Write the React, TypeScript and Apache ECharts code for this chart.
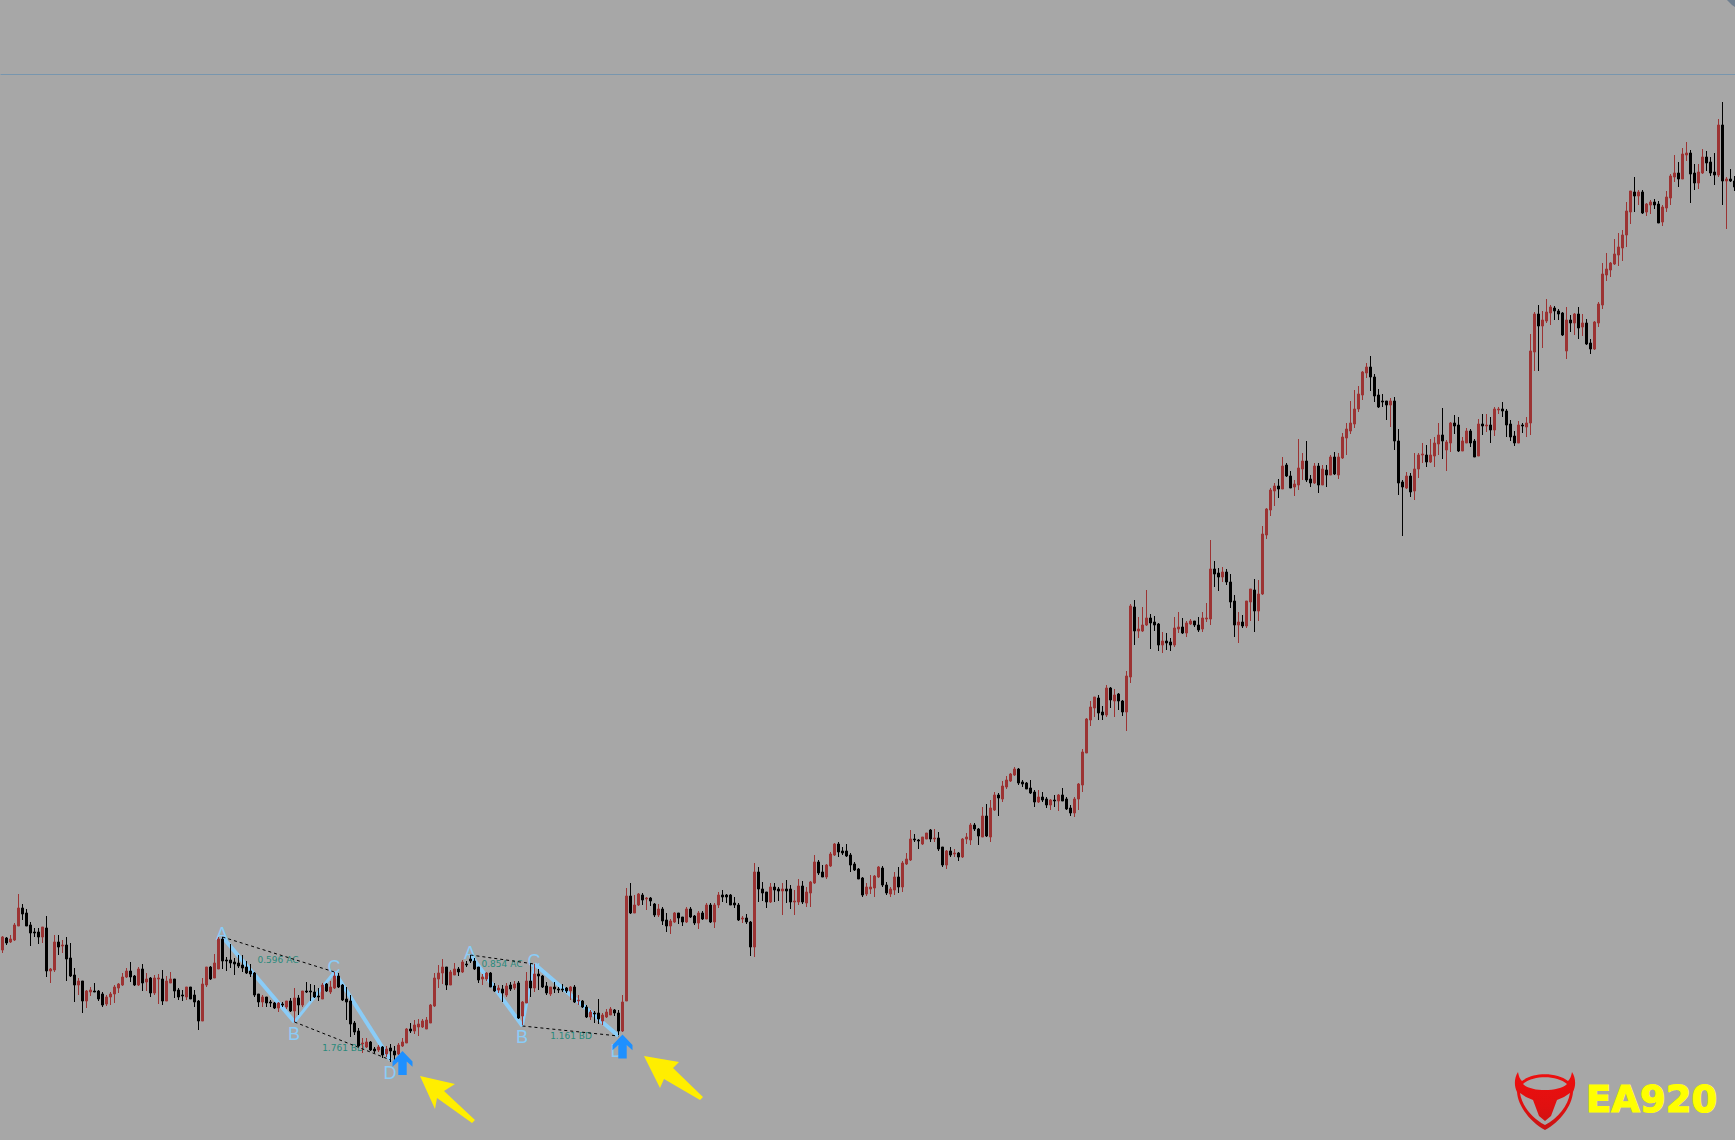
import React, { useEffect, useRef } from "react";
import * as echarts from "echarts";

const candlesFallingLeg: number[][] = [
  [190,203,187,204],[202,197,195,203],[198,201,197,205],[200,215,199,217],[214,232,214,246],[232,226,220,236],[227,214,214,231],[215,207,194,218],[208,207,203,212],[208,203,196,212],
  [203,213,197,213],[212,169,163,224],[169,171,157,172],[170,198,168,205],[198,193,185,205],[194,195,187,200],[195,181,159,203],[182,164,163,197],[165,155,138,172],[155,159,145,162],
  [159,139,127,159],[139,149,132,150],[148,150,144,153],[149,148,148,157],[149,141,139,150],[146,135,133,148],[136,143,134,145],[143,146,135,148],[146,153,137,155],[152,156,147,157],
  [155,163,154,167],[163,169,162,172],[169,163,158,178],[164,155,154,165],[155,171,154,173],[171,157,149,176],[158,161,149,167],[162,147,143,163],[147,162,145,165],[161,162,136,166],
  [161,139,135,170],[139,159,139,164],[157,161,157,168],[161,149,142,161],[150,143,140,152],[145,144,139,150],[143,153,140,153],[153,141,141,153],[145,138,133,150],[139,119,110,140],
  [119,156,119,162],[155,173,153,173],[173,161,160,174],[162,177,162,186],[171,201,171,203],[201,179,171,203],[180,179,169,183],[180,177,172,196],[178,176,165,182],[177,174,172,185],
  [175,172,168,185],[173,167,166,179],[169,166,163,176],[167,145,143,168],[146,138,133,146],[138,143,133,145],[143,137,133,143],[138,137,133,140],[137,132,131,138],[132,137,128,138],
  [136,135,133,138],[133,139,131,139],[139,129,128,142],[129,142,118,152],[142,135,125,145],[135,149,133,149],[149,148,147,158],[149,148,139,156],[148,143,142,155],[144,143,139,152],
  [141,155,141,157],[156,149,148,157],[148,153,146,159],[152,164,151,168],[164,153,152,167],[155,140,139,156],[141,138,120,153],[139,116,103,145],[117,108,105,119],[109,94,93,112],
  [96,97,87,102],[93,98,92,102],[98,90,89,99],[91,89,87,93],[90,93,88,95],[93,85,82,94],[86,91,83,94],[92,89,78,96],[89,85,79,94],[86,95,85,97],
];
const candlesSecondPattern: number[][] = [
  [94,98,93,102],[97,111,97,112],[111,109,107,117],[109,115,106,120],[113,116,104,121],[113,119,112,121],[111,120,111,123],[117,135,117,136],[134,162,133,167],[161,167,152,175],
  [167,173,156,181],[173,155,150,173],[155,168,155,170],[165,171,165,177],[171,168,164,173],[168,178,167,180],[176,175,173,179],[181,179,177,185],[179,171,170,182],[173,160,157,173],
  [161,163,155,166],[161,167,159,168],[167,153,153,168],[154,149,148,157],[150,152,147,155],[151,147,138,155],[145,154,143,157],[155,151,149,158],[152,156,150,159],[157,122,121,159],
  [124,138,115,139],[137,159,137,168],[159,152,143,176],[152,166,148,176],[166,164,150,171],[164,153,152,165],[154,147,145,158],[146,153,144,153],[153,151,147,158],[151,150,147,153],
  [151,150,148,156],[152,149,147,153],[149,153,140,154],[153,138,137,155],[139,140,135,145],[139,133,132,140],[133,123,122,135],[123,128,120,130],[127,126,117,129],[127,121,116,141],
  [119,125,115,127],[123,128,122,131],[125,131,125,133],[130,127,124,131],[127,109,105,130],[109,138,108,145],
];
const candlesSlowClimb: number[][] = [
  [139,244,139,252],[244,227,226,257],[227,235,227,245],[235,246,234,247],[245,240,235,247],[241,242,230,243],[242,239,234,243],[236,225,223,237],[225,231,223,236],[231,219,215,233],
  [220,214,208,227],[214,219,206,221],[218,227,217,228],[227,222,216,227],[223,218,214,223],[218,231,217,233],[231,223,222,233],[224,217,215,225],[217,227,211,229],[227,221,220,229],
  [221,235,221,237],[235,218,217,237],[218,235,212,237],[235,245,232,248],[245,243,238,250],[245,243,237,246],[245,235,235,246],[237,235,232,243],[235,220,219,237],[221,222,217,224],
  [222,218,216,226],[218,193,184,219],[193,268,183,277],[268,251,238,273],[251,247,239,258],[248,238,232,248],[238,253,237,257],[253,250,238,257],[251,249,239,253],[249,251,225,257],
  [251,249,237,260],[251,238,231,255],[238,239,225,250],[238,254,235,261],[254,238,236,259],[237,248,233,253],[247,258,233,259],[257,278,256,285],[278,267,265,280],[268,263,263,275],
  [263,275,261,276],[274,286,273,288],[285,296,284,297],[296,288,283,298],[289,287,285,293],[289,284,283,296],[285,275,268,287],[276,270,269,278],[271,261,261,272],[262,245,243,263],
  [246,253,244,257],[251,253,246,265],[252,264,243,265],[263,273,262,274],[272,255,253,274],[255,247,245,258],[246,251,243,253],[250,263,245,268],[263,253,247,273],[253,277,248,279],
  [276,281,275,287],[280,301,279,310],[301,300,298,306],[300,299,291,301],[296,303,295,303],[301,307,301,307],[310,301,298,311],[301,302,298,311],[302,291,289,308],[293,275,273,293],
  [275,289,271,290],[289,285,283,293],[286,287,283,291],[287,283,279,288],[283,301,282,302],[301,303,296,307],[300,315,295,317],[315,311,309,317],[311,304,295,312],[303,324,303,333],
  [324,304,303,336],[303,332,298,340],[330,345,329,348],[345,342,324,347],[341,354,338,359],[353,360,351,364],[359,366,358,367],[365,371,364,373],[371,357,355,372],[358,356,353,360],
  [357,351,351,358],[352,347,346,360],[348,338,333,350],[338,343,337,350],[343,340,338,348],[341,335,332,343],[335,340,330,341],[340,339,333,345],[339,345,329,346],[345,339,339,352],
  [341,331,330,343],[332,327,324,335],[327,341,323,343],[341,356,330,357],[355,388,348,391],
];
const candlesSteepRise: number[][] = [
  [387,421,387,422],[420,433,414,439],[432,443,423,443],[442,427,420,445],[428,425,420,434],[425,452,423,455],[452,440,432,453],[439,445,423,451],[446,439,430,447],[439,428,424,440],
  [428,464,409,469],[463,534,457,536],[533,509,495,540],[509,511,502,523],[509,515,508,533],[515,522,514,550],[522,517,491,526],[518,515,509,524],[516,495,489,517],[495,499,487,508],
  [499,497,490,507],[498,495,489,502],[495,512,493,523],[511,513,507,528],[513,507,506,522],[507,517,503,519],[516,519,515,521],[519,515,513,519],[515,510,508,523],[511,522,508,528],
  [521,522,518,537],[521,571,515,600],[571,566,553,579],[567,563,549,572],[563,568,558,573],[568,558,555,571],[558,538,532,566],[539,515,503,545],[515,518,497,528],[518,514,512,525],
  [514,539,512,539],[538,551,519,551],[550,529,508,561],[529,546,519,560],[546,606,545,614],
];
const candlesRunUp: number[][] = [
  [605,631,601,632],[630,650,624,652],[649,654,634,657],[654,651,642,661],[651,674,651,683],[675,664,663,677],[664,652,652,669],[653,656,644,660],[655,672,650,701],[671,679,660,687],
  [679,660,658,699],[661,657,653,665],[657,674,656,677],[674,655,647,677],[655,671,655,675],[670,665,653,675],[665,683,665,685],[683,666,665,688],[665,683,661,687],
];
const candlesPullback: number[][] = [
  [682,703,681,707],[702,711,685,717],[709,717,706,739],[716,731,712,750],[731,746,728,754],[745,768,740,769],[767,773,762,777],[773,763,749,784],[763,744,738,766],[745,733,732,751],
  [739,738,733,746],[739,735,720,739],[735,739,713,742],[739,699,690,743],[699,657,645,711],[658,653,604,660],[652,664,651,668],[664,648,643,667],[649,671,640,687],[671,685,662,687],
  [685,686,677,697],[685,678,673,695],[678,685,677,701],[684,697,673,703],[696,705,685,717],[705,699,681,732],[690,698,669,700],[697,717,688,718],[717,714,706,725],[715,689,688,723],
  [689,699,689,703],[697,709,697,712],[709,697,693,711],[699,683,683,701],[684,716,684,721],[716,714,705,726],[714,715,708,726],[715,710,697,723],[710,731,704,733],[730,731,726,733],
  [731,729,723,738],[729,715,703,731],[716,703,699,720],[704,697,694,709],[697,715,697,719],[715,714,707,717],[713,717,703,723],
];
const candlesFinalHigh: number[][] = [
  [717,789,705,806],[788,826,769,828],[826,814,769,835],[814,820,792,829],[819,828,817,841],[827,833,815,835],[832,829,820,834],[829,826,820,831],[827,805,804,828],[789,820,781,833],
  [820,817,808,825],[817,826,805,827],[826,812,801,833],[813,817,804,826],[817,796,795,821],[797,791,786,801],[791,818,790,819],[817,836,813,838],[835,866,831,877],[865,871,859,887],
  [870,877,863,878],[876,886,875,901],[885,893,874,907],[892,905,879,910],[905,929,893,938],[928,949,916,949],[948,944,928,963],[944,948,935,950],[948,927,926,950],[928,936,924,937],
  [935,938,926,940],[938,935,931,941],[936,917,917,939],[918,933,914,935],[932,943,928,949],[942,964,935,966],[963,967,958,985],[967,961,953,978],[961,986,961,992],[985,987,979,998],
  [987,966,937,990],[967,957,950,976],[957,968,951,976],[967,983,966,991],[983,977,969,989],[978,967,964,983],[968,965,955,987],[965,1015,963,1021],[1015,959,935,1038],[959,961,911,963],
  [961,959,958,971],[959,953,949,964],
];
const candles = [
  ...candlesFallingLeg, ...candlesSecondPattern, ...candlesSlowClimb, ...candlesSteepRise,
  ...candlesRunUp, ...candlesPullback, ...candlesFinalHigh,
];
const barLabels = candles.map((_, i) => String(i));

// Harmonic patterns: [bar index, price]
const firstA = [55, 203], firstB = [73, 118], firstC = [83, 168], firstD = [97, 80];
const secondA = [117, 185], secondB = [130, 114], secondC = [133, 176], secondD = [154, 104];
const signalArrows = [[100, 77], [155, 93.5]];
const referenceLevel = 1066;

const UP = "#9c3333";
const DOWN = "#000000";
const LEG = "#8accf7";
const TEAL = "#2b8a7c";
const YELLOW = "#ffee00";

echarts.graphic.registerShape(
  "ea920Logo",
  echarts.graphic.extendPath(
    "M3 0C-1 6-1 14 2 20C3 34 15 50 30 58C45 50 57 34 58 20C61 14 61 6 57 0C56 5 55 7 53 9C42 0 18 0 7 9C5 7 4 5 3 0Z" +
      "M8 12C18 3 42 3 52 12C44 20 16 20 8 12Z" +
      "M5 21L11 25L18 28L24 44L30 49L36 44L42 28L49 25L55 21C53 34 43 46 30 53C17 46 7 34 5 21Z",
    {}
  )
);

const leg = (a: number[], b: number[], width: number, dashed = false) => ({
  type: "line",
  data: [a, b],
  symbol: "none",
  silent: true,
  z: dashed ? 4 : 1,
  lineStyle: { color: dashed ? "#000000" : LEG, width, type: dashed ? [3, 3] : "solid" },
});

const note = (text: string, x: number, y: number) => ({
  type: "text",
  z: 3,
  style: { text, x, y, fill: TEAL, font: '9px "DejaVu Sans"', align: "center", verticalAlign: "middle" },
});
const letter = (text: string, x: number, y: number) => ({
  type: "text",
  z: 1,
  style: { text, x, y, fill: LEG, font: '18px "Liberation Sans"', align: "center", verticalAlign: "middle" },
});
const pointer = (points: number[][]) => ({
  type: "polygon",
  z: 6,
  shape: { points },
  style: { fill: YELLOW },
});

export default function App() {
  const ref = useRef<HTMLDivElement>(null);
  useEffect(() => {
    document.body.style.margin = "0";
    const chart = echarts.init(ref.current!, null, { renderer: "svg" });
    chart.setOption({
      animation: false,
      backgroundColor: "#a7a7a7",
      grid: { left: 0.5, top: 0, width: 1736, height: 1140, containLabel: false },
      xAxis: { type: "category", data: barLabels, show: false, boundaryGap: true },
      yAxis: { type: "value", min: 0, max: 1140, show: false, scale: false },
      series: [
        leg(firstA, firstB, 4),
        leg(firstB, firstC, 3),
        leg(firstC, firstD, 4),
        leg(secondA, secondB, 4),
        leg(secondB, secondC, 2.5),
        leg(secondC, secondD, 4),
        {
          type: "candlestick",
          data: candles,
          barWidth: 2,
          z: 3,
          clip: false,
          itemStyle: { color: UP, color0: DOWN, borderColor: UP, borderColor0: DOWN, borderWidth: 1 },
          markLine: {
            silent: true,
            symbol: "none",
            label: { show: false },
            lineStyle: { color: "#7896ae", width: 1, type: "solid" },
            data: [{ yAxis: referenceLevel }],
          },
        },
        leg(firstA, firstC, 1, true),
        leg(firstB, firstD, 1, true),
        leg(secondA, secondC, 1, true),
        leg(secondB, secondD, 1, true),
        {
          type: "scatter",
          data: signalArrows,
          z: 5,
          symbol: "path://M9.5 0L19 10V15L13.5 10V23H5.5V10L0 15V10Z",
          symbolSize: [20, 24],
          itemStyle: { color: "#1e90ff", opacity: 1 },
        },
      ],
      graphic: [
        letter("A", 222, 934),
        letter("B", 294, 1034),
        letter("C", 334, 967),
        letter("D", 390, 1073),
        letter("A", 470, 953),
        letter("B", 522, 1037),
        letter("C", 534, 961),
        letter("D", 617, 1051),
        note("0.596 AC", 278, 960),
        note("1.761 BD", 343, 1048),
        note("0.854 AC", 502, 964),
        note("1.161 BD", 571, 1036),
        pointer([[420,1076],[455,1084],[444,1091],[475,1120],[472,1123],[437,1098],[435,1109]]),
        pointer([[644,1056],[679,1062],[673,1068],[703,1097],[700,1100],[664,1079],[660,1088]]),
        { type: "polygon", z: 6, shape: { points: [[1727,0],[1735,0],[1735,7],[1732,5]] }, style: { fill: "#6f7f90" } },
        {
          type: "ea920Logo",
          x: 1515,
          y: 1072,
          z: 6,
          style: {
            fill: new echarts.graphic.LinearGradient(0, 0, 0, 1, [
              { offset: 0, color: "#ee0f0f" },
              { offset: 0.6, color: "#e01010" },
              { offset: 1, color: "#c81414" },
            ]),
          },
        },
        {
          type: "text",
          z: 6,
          style: {
            text: "EA920",
            x: 1586,
            y: 1099,
            fill: "#ffff00",
            stroke: "#ffff00",
            lineWidth: 1.2,
            font: 'bold 37px "DejaVu Sans"',
            align: "left",
            verticalAlign: "middle",
          },
        },
      ],
    });
    return () => chart.dispose();
  }, []);
  return (
    <div style={{ position: "absolute", left: 0, top: 0, width: 1735, height: 1140, overflow: "hidden" }}>
      <div ref={ref} style={{ width: 1740, height: 1140 }} />
    </div>
  );
}
